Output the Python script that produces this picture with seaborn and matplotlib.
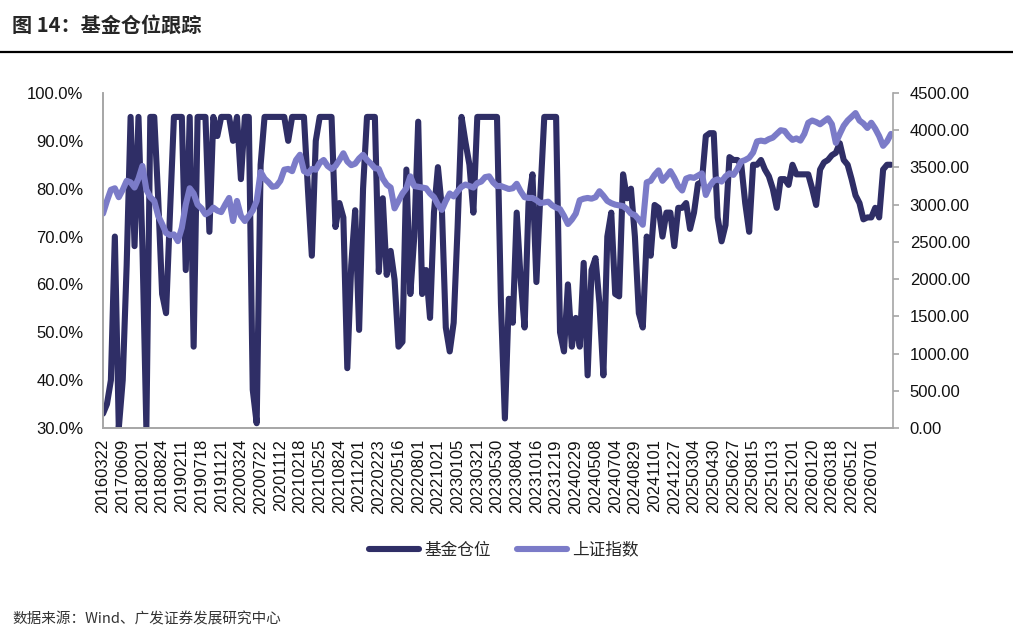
import matplotlib
matplotlib.use("Agg")
import matplotlib.pyplot as plt
import seaborn as sns
import pandas as pd
from matplotlib.ticker import PercentFormatter, FuncFormatter, FixedLocator
from matplotlib.lines import Line2D

sns.set_theme(style="white")
plt.rcParams['font.family'] = ['Liberation Sans', 'Noto Sans CJK SC', 'DejaVu Sans']

# 日期标签（每5个数据点一个）
date_labels = [
    "20160322", "20170609", "20180201", "20180824", "20190211", "20190718",
    "20191121", "20200324", "20200722", "20201112", "20210218", "20210525",
    "20210824", "20211201", "20220223", "20220516", "20220801", "20221021",
    "20230105", "20230321", "20230530", "20230804", "20231016", "20231219",
    "20240229", "20240508", "20240704", "20240829", "20241101", "20241227",
    "20250304", "20250430", "20250627", "20250815", "20251013", "20251201",
    "20260120", "20260318", "20260512", "20260701",
]

# 基金仓位 (%)
fund_position = [
    33, 35, 40, 70, 30, 40, 64, 95, 68, 95,
    68, 30, 95, 95, 78, 58, 54, 75, 95, 95,
    95, 63, 95, 47, 95, 95, 95, 71, 95, 91,
    95, 95, 95, 90, 95, 82, 95, 95, 38, 31,
    85, 95, 95, 95, 95, 95, 95, 90, 95, 95,
    95, 95, 80, 66, 90, 95, 95, 95, 95, 72,
    77, 74, 42.5, 64, 75.5, 50.5, 80, 95, 95, 95,
    62.6, 78, 62, 67, 61, 47, 48, 84, 58, 70,
    94, 58, 63, 53, 75, 84.5, 76, 51, 46, 52,
    72, 95, 89.7, 85, 75, 95, 95, 95, 95, 95,
    95, 56, 32, 57, 52, 75, 61, 51, 77, 83,
    60.5, 78.7, 95, 95, 95, 95, 50, 46, 60, 47,
    53, 47, 64.5, 41, 63, 65.5, 56, 41, 70, 75,
    58, 57.5, 83, 78, 80, 70, 54, 51, 70, 66,
    76.6, 76, 70, 75, 75, 68, 76, 76, 77, 71.6,
    75, 81, 81.4, 91, 91.6, 91.6, 74, 69, 72.4, 86.6,
    86, 86, 85, 77, 71, 85, 85, 86, 84, 82.6,
    80, 76, 82, 82, 80.8, 85, 83, 83, 83, 83,
    80, 76.6, 84, 85.5, 86, 87, 87.5, 89.5, 86, 85,
    82, 78.6, 77, 73.6, 74, 74, 76, 74, 84, 85,
    85,
]

# 上证指数
sh_index = [
    2880, 3050, 3200, 3220, 3100, 3200, 3320, 3300, 3230, 3350,
    3520, 3200, 3100, 3050, 2850, 2740, 2620, 2590, 2600, 2510,
    2690, 3000, 3220, 3150, 3000, 2950, 2870, 2900, 2960, 2920,
    2900, 3000, 3090, 2780, 3050, 2850, 2780, 2850, 2920, 3050,
    3440, 3350, 3300, 3240, 3250, 3320, 3470, 3480, 3450, 3600,
    3670, 3450, 3420, 3480, 3470, 3560, 3600, 3520, 3480, 3520,
    3600, 3690, 3580, 3530, 3550, 3620, 3670, 3600, 3550, 3490,
    3480, 3350, 3270, 3230, 2950, 3050, 3150, 3220, 3380, 3250,
    3240, 3230, 3220, 3150, 3100, 3000, 2930, 3050, 3150, 3110,
    3180, 3240, 3270, 3250, 3230, 3290, 3310, 3370, 3380, 3300,
    3250, 3250, 3230, 3210, 3220, 3280, 3180, 3100, 3090, 3090,
    3060, 3020, 3030, 3040, 2990, 2960, 2940, 2850, 2740, 2800,
    2880, 3060, 3080, 3090, 3080, 3100, 3180, 3120, 3050, 3020,
    3000, 2990, 2980, 2940, 2880, 2860, 2800, 2730, 3300, 3320,
    3400, 3460, 3320, 3380, 3450, 3360, 3250, 3190, 3350, 3370,
    3360, 3390, 3420, 3130, 3250, 3320, 3340, 3310, 3380, 3420,
    3400, 3480, 3580, 3600, 3630, 3700, 3850, 3860, 3850, 3880,
    3900, 3950, 4000, 3990, 3920, 3870, 3890, 3860, 3950, 4100,
    4130, 4110, 4080, 4120, 4160, 4080, 3830, 3950, 4060, 4130,
    4180, 4230, 4130, 4090, 4030, 4100, 4020, 3920, 3790, 3850,
    3950,
]

df = pd.DataFrame({
    "idx": range(len(fund_position)),
    "fund": [v / 100 for v in fund_position],
    "index": sh_index,
})

dark = "#2f2e66"
light = "#7b7bc8"
grey = "#a6a6a6"

fig = plt.figure(figsize=(10.13, 6.39), dpi=100)
ax = fig.add_axes([0.1017, 0.3302, 0.7798, 0.5243])

sns.lineplot(data=df, x="idx", y="fund", ax=ax, color=dark, linewidth=4.4,
             label="基金仓位", legend=False)
ax2 = ax.twinx()
sns.lineplot(data=df, x="idx", y="index", ax=ax2, color=light, linewidth=4.4,
             label="上证指数", legend=False)

ax.set_xlim(0, 200.5)
ax.set_ylim(0.3, 1.0)
ax2.set_ylim(0, 4500)
ax.set_yticks([0.3, 0.4, 0.5, 0.6, 0.7, 0.8, 0.9, 1.0])
ax2.set_yticks(range(0, 4501, 500))
ax.yaxis.set_major_formatter(PercentFormatter(1.0, decimals=1))
ax2.yaxis.set_major_formatter(FuncFormatter(lambda v, p: f"{v:.2f}"))

tick_pos = [i * 5 for i in range(len(date_labels))]
ax.xaxis.set_major_locator(FixedLocator(tick_pos))
ax.set_xticklabels(date_labels, rotation=90)

ax.set_xlabel("")
ax.set_ylabel("")
ax2.set_ylabel("")

for a in (ax, ax2):
    for s in a.spines.values():
        s.set_color(grey)
        s.set_linewidth(1.2)
    a.spines["top"].set_visible(False)
ax.spines["right"].set_visible(False)

ax.tick_params(axis="x", length=0, pad=8, labelsize=12, labelcolor="#111111")
ax.tick_params(axis="y", length=0, pad=14, labelsize=12, labelcolor="#111111")
ax2.tick_params(axis="y", length=4, width=1.2, color=grey, pad=8,
                labelsize=12, labelcolor="#111111")

# 标题与分隔线
fig.text(0.012, 0.960, "图 14：基金仓位跟踪", fontsize=14.5, fontweight="bold",
         family=["Noto Sans CJK SC", "DejaVu Sans"], va="center", ha="left")
fig.add_artist(Line2D([0.0, 1.0], [0.918, 0.918], transform=fig.transFigure,
                      color="black", linewidth=1.6))

handles = [ax.lines[0], ax2.lines[0]]
leg = fig.legend(handles=handles, labels=["基金仓位", "上证指数"],
                 loc="center", bbox_to_anchor=(0.4975, 0.139), ncol=2,
                 frameon=False, handlelength=3.0,
                 handletextpad=0.3, columnspacing=1.6,
                 prop={"family": ["Noto Sans CJK SC", "DejaVu Sans"], "size": 12})

fig.text(0.012, 0.030, "数据来源：Wind、广发证券发展研究中心", fontsize=10.5,
         family=["Noto Sans CJK SC", "DejaVu Sans"], color="#333333",
         va="center", ha="left")

fig.savefig("out.png", dpi=100)
plt.close(fig)
